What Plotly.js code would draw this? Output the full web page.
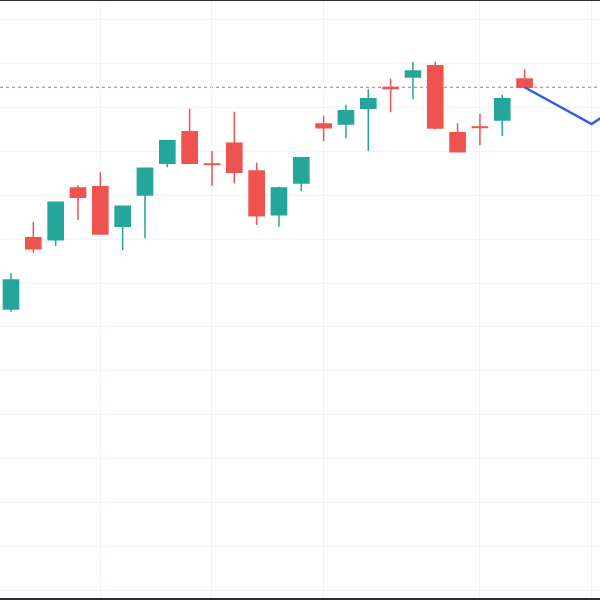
<!DOCTYPE html>
<html>
<head>
<meta charset="utf-8">
<script src="https://cdn.plot.ly/plotly-3.0.1.min.js"></script>
<style>html,body{margin:0;padding:0;background:#fff;}#chart{width:600px;height:600px;}</style>
</head>
<body>
<div id="chart"></div>
<script>
// Candle index (session number)
var sessions = [0,1,2,3,4,5,6,7,8,9,10,11,12,13,14,15,16,17,18,19,20,21,22,23];
var openPrices  = [127.04,135.17,134.95,140.84,140.99,136.47,140.04,143.66,147.26,143.58,145.94,142.78,137.80,141.41,148.14,148.14,149.93,152.30,153.50,154.79,147.15,147.80,148.60,153.27];
var highPrices  = [131.15,137.00,139.21,141.15,142.63,138.75,143.09,146.24,149.88,145.06,149.54,143.73,140.99,144.30,149.09,150.34,152.10,153.31,155.24,155.24,148.22,149.28,151.48,154.38];
var lowPrices   = [126.73,133.46,134.23,137.19,135.60,133.77,135.11,143.20,143.66,141.10,141.38,136.62,136.43,140.50,146.17,146.51,145.06,149.47,150.96,147.54,144.98,145.71,146.77,152.33];
var closePrices = [130.35,133.92,139.21,139.78,135.60,138.75,143.09,146.24,143.66,143.52,142.63,137.68,140.84,144.30,147.72,149.66,151.03,152.18,154.18,147.68,144.98,147.73,151.03,152.33];

// Projection line
var projX = [23,26,27];
var projY = [152.33,148.14,149.80];

// Vertical grid positions (period starts)
var gridSessions = [4,9,14,21,26];

var lastClose = closePrices[closePrices.length-1];

var candle = {
  type: 'candlestick',
  x: sessions, open: openPrices, high: highPrices, low: lowPrices, close: closePrices,
  increasing: {line: {color: '#26a69a', width: 1.5}, fillcolor: '#26a69a'},
  decreasing: {line: {color: '#ef5350', width: 1.5}, fillcolor: '#ef5350'},
  whiskerwidth: 0,
  hoverinfo: 'none'
};
var proj = {
  type: 'scatter', mode: 'lines', x: projX, y: projY,
  line: {color: '#2f5bef', width: 2.5},
  hoverinfo: 'none'
};

var layout = {
  width: 600, height: 600,
  margin: {l: 0, r: 0, t: 0, b: 0},
  paper_bgcolor: '#ffffff', plot_bgcolor: '#ffffff',
  showlegend: false,
  boxgap: 0.32,
  boxgroupgap: 0,
  xaxis: {
    range: [-0.4926, 26.377], rangeslider: {visible: false},
    tickvals: gridSessions, showticklabels: false, ticks: '',
    showgrid: true, gridcolor: '#f0f3fa', gridwidth: 1, zeroline: false, showline: false
  },
  yaxis: {
    range: [93.86, 162.28], tick0: 95, dtick: 5, showticklabels: false, ticks: '',
    showgrid: true, gridcolor: '#f0f3fa', gridwidth: 1, zeroline: false, showline: false
  },
  shapes: [
    {type: 'line', xref: 'paper', x0: 0, x1: 1, yref: 'y', y0: lastClose, y1: lastClose,
     line: {color: '#f05a57', width: 1.2, dash: 'dot'}, layer: 'below'},
    {type: 'rect', xref: 'paper', yref: 'paper', x0: 0, x1: 1, y0: 0.9984, y1: 1.001,
     fillcolor: '#2a2e39', line: {width: 0}},
    {type: 'rect', xref: 'paper', yref: 'paper', x0: 0, x1: 1, y0: -0.001, y1: 0.0034,
     fillcolor: '#2a2e39', line: {width: 0}}
  ]
};

Plotly.newPlot('chart', [candle, proj], layout, {staticPlot: true, displayModeBar: false});
</script>
</body>
</html>
